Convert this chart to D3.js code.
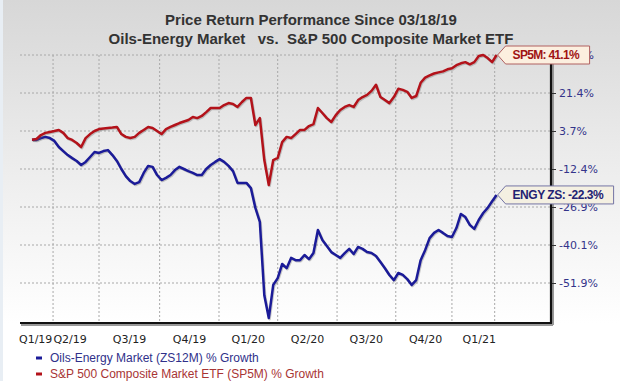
<!DOCTYPE html>
<html>
<head>
<meta charset="utf-8">
<script src="https://cdn.jsdelivr.net/npm/d3@7"></script>
<style>
  body { margin: 0; background: #fff; }
  svg { display: block; }
</style>
</head>
<body>
<div id="chart"></div>
<script>
"use strict"

// Weekly closes starting 03/18/19, % growth since start
const startDate = "2019-03-18";

const energyValues = [
    0, -0.1, 0.7, 1.2, 0.7, -0.5, -3.1, -4.8, -6.5, -7.8,
    -9.0, -10.7, -9.4, -7.3, -5.2, -5.6, -4.8, -4.4, -6.5, -9.0,
    -12.4, -15.1, -17.0, -18.1, -17.4, -13.9, -11.1, -11.5, -14.7, -16.6,
    -15.8, -14.7, -12.8, -11.5, -12.4, -13.2, -13.9, -14.7, -14.7, -12.4,
    -10.7, -9.4, -8.2, -9.4, -11.1, -13.2, -17.7, -17.7, -17.7, -19.7,
    -27.2, -32.1, -55.7, -62.8, -52.5, -50.4, -46.0, -47.3, -44.1, -44.8,
    -44.8, -43.2, -44.5, -42.6, -34.9, -38.4, -40.4, -42.3, -43.2, -44.1,
    -42.6, -41.3, -42.9, -40.7, -41.3, -42.3, -42.6, -43.5, -45.4, -47.3,
    -49.4, -51.0, -48.8, -49.4, -50.7, -52.5, -51.0, -44.8, -41.7, -37.7,
    -35.9, -34.9, -35.9, -37.0, -37.3, -34.2, -29.3, -30.4, -33.1, -34.5,
    -31.4, -29.0, -27.2, -24.7, -22.3
];

const sp500Values = [
    0, 0.3, 2.0, 2.9, 3.3, 3.7, 4.2, 2.9, 0.7, -0.1,
    -1.4, -3.1, 0.7, 2.4, 3.7, 4.6, 4.9, 5.1, 5.3, 5.6,
    2.4, 1.2, 0.7, 1.2, 2.9, 4.2, 5.6, 5.1, 3.7, 2.4,
    4.6, 5.6, 6.5, 7.4, 8.1, 8.8, 10.2, 9.7, 10.7, 12.5,
    14.4, 14.4, 14.4, 15.8, 16.7, 16.3, 14.9, 17.2, 19.1, 19.1,
    6.5, 9.7, -8.6, -18.5, -8.6, -7.7, -1.0, 1.2, 0.7, 2.4,
    4.2, 4.2, 6.0, 6.9, 14.4, 12.1, 9.7, 7.9, 11.1, 13.5,
    14.9, 15.8, 14.9, 18.1, 19.5, 20.5, 22.5, 25.7, 19.5, 18.1,
    16.7, 19.5, 23.6, 23.0, 22.0, 19.1, 20.0, 26.7, 29.4, 30.5,
    31.5, 32.1, 32.6, 33.7, 34.2, 35.8, 36.8, 37.4, 36.3, 37.4,
    40.6, 41.1, 39.5, 37.4, 41.1
];

const yTicks = [41.1, 21.4, 3.7, -12.4, -26.9, -40.1, -51.9];

const gridDates = ["2019-04-20", "2019-07-01", "2019-10-04", "2020-01-05", "2020-04-06",
                   "2020-07-08", "2020-10-08", "2021-01-04", "2021-03-12"];
const quarterLabels = ["Q1/19", "Q2/19", "Q3/19", "Q4/19", "Q1/20", "Q2/20", "Q3/20", "Q4/20", "Q1/21"];
const labelDates = ["2019-03-23", "2019-05-16", "2019-08-17", "2019-11-19", "2020-02-19",
                    "2020-05-22", "2020-08-22", "2020-11-23", "2021-02-15"];

const seriesNames = ["Oils-Energy Market (ZS12M) % Growth", "S&P 500 Composite Market ETF (SP5M) % Growth"];
const calloutNames = ["ENGY ZS", "SP5M"];

function drawChart(){
    const figWidth = 620;
    const figHeight = 381;
    const plot = {left: 20, right: 551, top: 55, bottom: 323};
    const lineStart = 32, lineEnd = 496.6;

    const parse = d3.utcParse("%Y-%m-%d");
    const start = parse(startDate);
    const dates = energyValues.map((d, i) => d3.utcDay.offset(start, i * 7));

    const energy = dates.map((d, i) => ({date: d, value: energyValues[i]}));
    const sp500 = dates.map((d, i) => ({date: d, value: sp500Values[i]}));

    const svg = d3.select("#chart").append("svg")
        .attr("width", figWidth)
        .attr("height", figHeight);

    // background gradient, grey at the top fading to white
    const defs = svg.append("defs");
    const grad = defs.append("linearGradient")
        .attr("id", "bg")
        .attr("x1", 0).attr("y1", 0).attr("x2", 0).attr("y2", 1);
    grad.append("stop").attr("offset", "0%").attr("stop-color", "#d7d7d7");
    grad.append("stop").attr("offset", "40%").attr("stop-color", "#ebebeb");
    grad.append("stop").attr("offset", "85%").attr("stop-color", "#ffffff");

    svg.append("rect")
        .attr("width", figWidth).attr("height", figHeight)
        .attr("fill", "url(#bg)");
    svg.append("rect")
        .attr("width", 3).attr("height", figHeight)
        .attr("fill", "#e8eef4");

    // Title
    svg.append("text")
        .attr("x", 311).attr("y", 25)
        .attr("text-anchor", "middle")
        .style("font", "bold 15px 'Liberation Sans', Arial, sans-serif")
        .style("fill", "#333")
        .text("Price Return Performance Since 03/18/19");
    svg.append("text")
        .attr("x", 311).attr("y", 44)
        .attr("text-anchor", "middle")
        .attr("xml:space", "preserve")
        .style("font", "bold 15px 'Liberation Sans', Arial, sans-serif")
        .style("fill", "#333")
        .style("white-space", "pre")
        .text("Oils-Energy Market   vs.  S&P 500 Composite Market ETF");

    // Scales
    const xScale = d3.scaleUtc()
        .domain([dates[0], dates[dates.length - 1]])
        .range([lineStart, lineEnd]);

    // ticks are evenly spaced on the reference's right axis
    const yScale = d3.scaleLinear()
        .domain(yTicks)
        .range(yTicks.map((d, i) => plot.top + i * 38));

    // Gridlines
    svg.append("g")
        .attr("class", "grid")
        .selectAll("line")
        .data(yTicks)
        .enter().append("line")
            .attr("x1", plot.left).attr("x2", plot.right)
            .attr("y1", d => yScale(d)).attr("y2", d => yScale(d))
            .style("stroke", "#a8a8a8")
            .style("stroke-dasharray", "2,2");

    svg.append("g")
        .attr("class", "grid")
        .selectAll("line")
        .data(gridDates.map(parse))
        .enter().append("line")
            .attr("x1", d => xScale(d)).attr("x2", d => xScale(d))
            .attr("y1", plot.top).attr("y2", plot.bottom)
            .style("stroke", "#a8a8a8")
            .style("stroke-dasharray", "2,2");

    // Axis frame with a soft shadow
    svg.append("line")
        .attr("x1", plot.left + 1).attr("x2", plot.right + 2)
        .attr("y1", plot.bottom + 2).attr("y2", plot.bottom + 2)
        .style("stroke", "#999").style("stroke-width", 2);
    svg.append("line")
        .attr("x1", plot.right + 2).attr("x2", plot.right + 2)
        .attr("y1", plot.top + 2).attr("y2", plot.bottom + 2)
        .style("stroke", "#999").style("stroke-width", 2);
    svg.append("line")
        .attr("x1", plot.left).attr("x2", plot.right + 1)
        .attr("y1", plot.bottom).attr("y2", plot.bottom)
        .style("stroke", "#111").style("stroke-width", 2.2);

    // Right axis
    const yAxis = d3.axisRight(yScale)
        .tickValues(yTicks)
        .tickSize(5)
        .tickPadding(3)
        .tickFormat(d => d.toFixed(1) + "%");
    const yAxisG = svg.append("g")
        .attr("class", "y axis")
        .attr("transform", `translate(${plot.right}, 0)`)
        .call(yAxis);
    yAxisG.select(".domain").remove();
    yAxisG.append("line")
        .attr("y1", plot.top).attr("y2", plot.bottom)
        .style("stroke", "#111").style("stroke-width", 2.2);
    yAxisG.selectAll(".tick line").style("stroke", "#333");
    yAxisG.selectAll(".tick text")
        .style("font", "11px 'DejaVu Sans', Verdana, sans-serif")
        .style("fill", "#34348a");

    // Bottom axis (quarter labels)
    const xAxis = d3.axisBottom(xScale)
        .tickValues(labelDates.map(parse))
        .tickSize(0)
        .tickPadding(12)
        .tickFormat((d, i) => quarterLabels[i]);
    const xAxisG = svg.append("g")
        .attr("class", "x axis")
        .attr("transform", `translate(0, ${plot.bottom})`)
        .call(xAxis);
    xAxisG.select(".domain").remove();
    xAxisG.selectAll(".tick text")
        .style("font", "11px 'DejaVu Sans', Verdana, sans-serif")
        .style("fill", "#222");

    // Lines
    const line = d3.line()
        .x(d => xScale(d.date))
        .y(d => yScale(d.value));

    const series = [
        {data: energy, color: "#1b1b98", name: seriesNames[0]},
        {data: sp500, color: "#b3121a", name: seriesNames[1]}
    ];

    series.forEach(s => {
        svg.append("path")
            .datum(s.data)
            .attr("d", line)
            .attr("transform", "translate(0.8, 1)")
            .style("fill", "none")
            .style("stroke", "#666")
            .style("stroke-opacity", 0.35)
            .style("stroke-width", 2.6)
            .style("stroke-linejoin", "round");
        svg.append("path")
            .datum(s.data)
            .attr("d", line)
            .style("fill", "none")
            .style("stroke", s.color)
            .style("stroke-width", 2.5)
            .style("stroke-linejoin", "round");
    });

    // End-of-line callouts (they cover the top tick label, as in the original)
    const callouts = [
        {last: energy[energy.length - 1], label: calloutNames[0], textWidth: 91,
         fill: "#f4f0e2", stroke: "#7474a4", color: "#222272"},
        {last: sp500[sp500.length - 1], label: calloutNames[1], textWidth: 67,
         fill: "#fcefdf", stroke: "#b06060", color: "#a01414"}
    ];

    callouts.forEach(c => {
        const tx = xScale(c.last.date) + 1;
        const ty = yScale(c.last.value);
        const g = svg.append("g");
        g.append("text")
            .attr("x", tx + 15)
            .attr("y", ty + 4)
            .attr("textLength", c.textWidth)
            .attr("lengthAdjust", "spacing")
            .style("font", "bold 12px 'Liberation Sans', Arial, sans-serif")
            .style("fill", c.color)
            .text(`${c.label}: ${c.last.value.toFixed(1)}%`);
        const w = c.textWidth + 17;
        g.insert("path", "text")
            .attr("d", `M${tx},${ty} L${tx + 8},${ty - 9} L${tx + 8 + w},${ty - 9} L${tx + 8 + w},${ty + 9} L${tx + 8},${ty + 9} Z`)
            .style("fill", c.fill)
            .style("stroke", c.stroke)
            .style("stroke-width", 1);
    });

    // Legend
    const legend = svg.append("g")
        .attr("class", "legend")
        .selectAll("g")
        .data(series)
        .enter().append("g")
            .attr("transform", (d, i) => `translate(36, ${358 + i * 16})`);
    legend.append("rect")
        .attr("x", 0).attr("y", -1.5)
        .attr("width", 6).attr("height", 3)
        .style("fill", d => d.color);
    legend.append("text")
        .attr("x", 14).attr("y", 4)
        .style("font", "12px 'Liberation Sans', Arial, sans-serif")
        .style("fill", (d, i) => i == 0 ? "#30308a" : "#a83434")
        .text(d => d.name);
}

drawChart();
</script>
</body>
</html>
